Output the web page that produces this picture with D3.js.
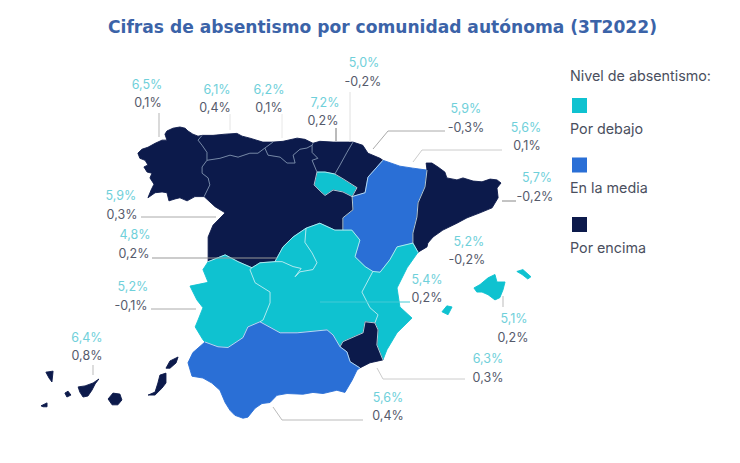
<!DOCTYPE html>
<html>
<head>
<meta charset="utf-8">
<script src="https://cdn.jsdelivr.net/npm/d3@7"></script>
<style>
	html, body { margin: 0; padding: 0; background: #fff; }
	svg { display: block; }
</style>
</head>
<body>
<div id="map"></div>
<script>
// values
var regionNames = ["Galicia", "Asturias", "Cantabria", "País Vasco", "La Rioja", "Navarra", "Aragón", "Cataluña",
	"Castilla y León", "Madrid", "Extremadura", "Castilla-La Mancha", "C. Valenciana", "Baleares", "Murcia", "Andalucía", "Canarias"];
var absenceRates = [6.5, 6.1, 6.2, 7.2, 5.0, 5.9, 5.6, 5.7, 5.9, 4.8, 5.2, 5.4, 5.2, 5.1, 6.3, 5.6, 6.4];
var rateChanges = [0.1, 0.4, 0.1, 0.2, -0.2, -0.3, 0.1, -0.2, 0.3, 0.2, -0.1, 0.2, -0.2, 0.2, 0.3, 0.4, 0.8];
var absenceLevels = ["encima", "encima", "encima", "encima", "debajo", "encima", "media", "encima",
	"encima", "debajo", "debajo", "debajo", "debajo", "debajo", "encima", "media", "encima"];

var levelKeys = ["debajo", "media", "encima"];
var levelNames = ["Por debajo", "En la media", "Por encima"];

// shared borders, lon/lat
var galCoast = [[-7.04,43.59],[-7.18,43.57],[-7.36,43.62],[-7.53,43.70],[-7.63,43.77],[-7.81,43.80],[-8.05,43.77],[-8.26,43.70],[-8.33,43.62],[-8.26,43.47],[-8.43,43.47],[-8.67,43.39],[-8.92,43.29],[-9.13,43.24],[-9.27,43.14],[-9.20,43.01],[-9.02,42.96],[-8.92,42.84],[-9.06,42.79],[-8.95,42.66],[-8.78,42.63],[-8.85,42.51],[-8.71,42.35],[-8.81,42.20],[-8.92,42.00],[-8.67,42.13],[-8.43,42.15],[-8.26,42.13],[-8.19,41.92],[-7.98,41.97],[-7.81,42.00],[-7.56,41.92],[-7.29,42.03],[-6.97,42.03]];
var galCyL = [[-6.97,42.03],[-6.77,42.33],[-6.83,42.51],[-7.04,42.63],[-7.04,42.79],[-6.87,42.96]];
var galAst = [[-6.87,42.96],[-6.87,43.16],[-7.04,43.34],[-7.18,43.47],[-7.04,43.59]];
var astCoast = [[-7.04,43.59],[-6.66,43.59],[-6.24,43.62],[-5.83,43.64],[-5.65,43.57],[-5.38,43.52],[-4.93,43.42],[-4.58,43.42]];
var astCan = [[-4.58,43.42],[-4.86,43.27]];
var astCyL = [[-4.86,43.27],[-5.10,43.14],[-5.38,43.14],[-5.79,43.04],[-6.07,43.09],[-6.42,43.01],[-6.87,42.96]];
var canCoast = [[-4.58,43.42],[-4.23,43.44],[-3.74,43.52],[-3.47,43.49],[-3.19,43.39]];
var canPV = [[-3.19,43.39],[-3.22,43.34]];
var canCyL = [[-4.86,43.27],[-4.75,43.09],[-4.33,43.04],[-4.09,42.89],[-3.81,42.89],[-3.88,43.09],[-3.64,43.24],[-3.40,43.27],[-3.22,43.34]];
var pvCoast = [[-3.19,43.39],[-2.95,43.44],[-2.49,43.42],[-1.80,43.42]];
var pvNav = [[-1.80,43.42],[-2.01,43.16],[-2.25,42.84],[-2.43,42.61]];
var pvRio = [[-2.43,42.61],[-2.77,42.66],[-3.05,42.66]];
var pvCyL = [[-3.05,42.66],[-3.22,42.96],[-3.02,43.01],[-3.22,43.16],[-3.22,43.34]];
var navRio = [[-2.43,42.61],[-2.15,42.49],[-1.66,42.26],[-1.83,42.03]];
var rioCyL = [[-1.83,42.03],[-2.15,42.15],[-2.49,42.20],[-2.77,42.06],[-2.91,42.15],[-3.15,42.33],[-3.05,42.66]];
var navCoast = [[-1.80,43.42],[-1.46,43.34],[-1.28,43.14],[-0.86,43.01],[-0.76,42.96]];
var navAra = [[-0.76,42.96],[-1.28,42.53],[-1.38,42.13],[-1.83,42.03]];
var cylAra = [[-1.83,42.03],[-1.80,41.69],[-2.15,41.48],[-2.15,41.16]];
var cylClm = [[-2.15,41.16],[-2.43,41.16],[-2.95,41.34],[-3.43,41.21]];
var cylMad = [[-3.43,41.21],[-3.88,40.98],[-4.23,40.72],[-4.51,40.33]];
var cylClm2 = [[-4.51,40.33],[-5.03,40.30],[-5.31,40.17]];
var cylExt = [[-5.31,40.17],[-5.79,40.33],[-6.24,40.51],[-6.83,40.33]];
var cylPort = [[-6.83,40.33],[-6.83,40.64],[-6.83,40.98],[-6.66,41.29],[-6.24,41.61],[-6.59,41.77],[-6.97,42.03]];
var madClm = [[-3.43,41.21],[-3.47,40.84],[-3.22,40.56],[-3.05,40.30],[-3.19,40.12],[-3.64,40.06],[-3.81,39.93],[-3.60,40.15],[-3.88,40.20],[-4.26,40.33],[-4.51,40.33]];
var portExt = [[-6.83,40.33],[-7.01,40.12],[-6.83,39.78],[-7.46,39.68],[-7.22,39.31],[-7.01,39.10],[-7.18,38.77],[-7.28,38.58],[-7.01,38.23],[-6.94,38.17]];
var extAnd = [[-6.94,38.17],[-6.49,38.04],[-6.14,38.02],[-5.62,38.29],[-5.45,38.58],[-5.03,38.72]];
var extClm = [[-5.31,40.17],[-5.38,40.12],[-5.20,39.77],[-4.68,39.52],[-4.68,39.23],[-4.92,38.77],[-5.03,38.72]];
var andClm = [[-5.03,38.72],[-4.33,38.42],[-3.74,38.42],[-2.70,38.50],[-2.49,38.36],[-2.25,38.04]];
var andMur = [[-2.25,38.04],[-2.01,37.90],[-1.90,37.63],[-1.56,37.46]];
var andCoast = [[-1.56,37.46],[-1.66,37.40],[-1.83,37.12],[-2.08,36.78],[-2.36,36.84],[-2.84,36.75],[-3.19,36.78],[-3.54,36.73],[-4.09,36.75],[-4.44,36.70],[-4.68,36.50],[-4.96,36.47],[-5.20,36.34],[-5.45,36.09],[-5.62,36.06],[-5.90,36.14],[-6.07,36.28],[-6.24,36.50],[-6.42,36.84],[-6.70,37.04],[-7.01,37.18],[-7.39,37.23],[-7.53,37.60],[-7.36,37.88],[-6.94,38.17]];
var murClm = [[-2.25,38.04],[-2.15,38.18],[-1.45,38.42],[-1.38,38.72],[-1.04,38.69]];
var murVal = [[-1.04,38.69],[-0.93,38.50],[-0.97,38.09],[-0.76,37.68]];
var murCoast = [[-0.76,37.68],[-1.21,37.60],[-1.56,37.46]];
var valClm = [[-1.11,40.07],[-1.49,39.52],[-1.21,39.10],[-0.93,38.91],[-1.04,38.69]];
var araVal = [[-1.11,40.07],[-0.86,40.05],[-0.52,40.38],[-0.27,40.72],[0.28,40.82]];
var araClm = [[-2.15,41.16],[-1.84,41.16],[-1.56,40.90],[-1.73,40.46],[-1.38,40.20],[-1.11,40.07]];
var valCoast = [[-0.76,37.68],[-0.62,37.96],[-0.27,38.42],[0.25,38.82],[-0.17,39.12],[-0.27,39.63],[0.08,40.17],[0.46,40.58]];
var valCat = [[0.46,40.58],[0.28,40.82]];
var araCat = [[0.28,40.82],[0.28,41.08],[0.42,41.50],[0.46,41.87],[0.70,42.28],[0.77,42.71]];
var araFrance = [[-0.76,42.96],[-0.17,42.81],[0.28,42.76],[0.77,42.71]];
var catCoast = [[0.77,42.71],[0.74,42.89],[0.94,42.89],[1.15,42.79],[1.39,42.66],[1.46,42.51],[1.81,42.46],[2.02,42.51],[2.37,42.43],[2.68,42.41],[2.96,42.48],[3.20,42.46],[3.34,42.38],[3.20,42.25],[3.24,42.00],[3.03,41.74],[2.61,41.61],[2.16,41.48],[1.81,41.34],[1.32,41.16],[0.98,40.98],[0.80,40.82],[0.77,40.72],[0.46,40.58]];

// islands, lon/lat
var mallorca = [[2.40,39.63],[2.61,39.72],[2.89,39.90],[3.13,39.99],[3.20,39.79],[3.48,39.79],[3.41,39.58],[3.30,39.37],[3.13,39.31],[2.89,39.45],[2.68,39.52],[2.50,39.52]];
var menorca = [[3.89,40.07],[4.10,40.12],[4.38,39.93],[4.27,39.87],[4.07,39.99]];
var ibiza = [[1.29,38.99],[1.46,39.15],[1.64,39.12],[1.50,38.91]];
var laPalma = [[-18.0,28.79],[-17.75,28.82],[-17.79,28.49],[-17.89,28.61]];
var tenerife = [[-16.88,28.34],[-16.64,28.37],[-16.36,28.46],[-16.16,28.58],[-16.29,28.43],[-16.40,28.24],[-16.54,28.06],[-16.71,28.03],[-16.82,28.18]];
var gomera = [[-17.34,28.15],[-17.23,28.21],[-17.13,28.09],[-17.27,28.03]];
var hierro = [[-18.17,27.76],[-17.96,27.85],[-17.96,27.73],[-18.10,27.73]];
var granCanaria = [[-15.84,27.97],[-15.67,28.15],[-15.43,28.12],[-15.36,27.94],[-15.50,27.79],[-15.70,27.79]];
var fuerteventura = [[-14.45,28.09],[-14.21,28.18],[-14.11,28.46],[-14.04,28.70],[-13.83,28.76],[-13.83,28.46],[-13.97,28.30],[-14.21,28.09]];
var lanzarote = [[-13.83,28.91],[-13.69,29.13],[-13.41,29.25],[-13.48,29.07],[-13.69,28.91]];

function rev(a){ return a.slice().reverse(); }
function ring(){ return [].concat.apply([], arguments); }

// same order as regionNames
var regionRings = [
	[ring(galCoast, galCyL, galAst)],
	[ring(astCoast, astCan, astCyL, galAst)],
	[ring(canCoast, canPV, rev(canCyL), rev(astCan))],
	[ring(pvCoast, pvNav, pvRio, pvCyL, rev(canPV))],
	[ring(navRio, rioCyL, rev(pvRio))],
	[ring(navCoast, navAra, rev(navRio), rev(pvNav))],
	[ring(araFrance, rev(araCat), rev(araVal), rev(araClm), rev(cylAra), rev(navAra))],
	[ring(catCoast, valCat, araCat)],
	[ring(rev(astCyL), canCyL, rev(pvCyL), rev(rioCyL), cylAra, cylClm, cylMad, cylClm2, cylExt, cylPort, galCyL)],
	[ring(rev(cylMad), madClm)],
	[ring(rev(cylExt), extClm, rev(extAnd), rev(portExt))],
	[ring(cylClm, madClm, cylClm2, extClm, andClm, murClm, rev(valClm), rev(araClm))],
	[ring(valCoast, valCat, rev(araVal), valClm, murVal)],
	[mallorca, menorca, ibiza],
	[ring(murVal, murCoast, rev(andMur), murClm)],
	[ring(andClm, andMur, andCoast, extAnd)],
	[laPalma, tenerife, gomera, hierro, granCanaria, fuerteventura, lanzarote]
];

// inner borders, the pale lines between regions
var darkBorders = [galCyL, galAst, astCan, astCyL, canPV, canCyL, pvNav, pvCyL];
var lightBorders = [pvRio, navRio, rioCyL, navAra, cylAra, cylClm, cylMad, cylClm2, cylExt, madClm, extAnd, extClm,
	andClm, andMur, murClm, murVal, valClm, araVal, araClm, valCat, araCat];

// label centres and leader lines, same order as regionNames
var labelSpots = [
	[147,84,148,102], [217,89,215,107], [269,89,269,107], [325,102,323,120], [364,62,363,81], [466,108,466,127],
	[526,127,527,145], [537,177,535,196], [121,195,122,214], [135,234,134,253], [133,286,131,305], [427,279,427,297],
	[469,241,467,259], [514,318,513,337], [488,358,488,377], [388,397,388,415], [87,337,87,355]
];
var leaders = [
	[[159,113],[159,137]], [[230,114],[230,130]], [[282,114],[282,138]], [[336,128],[336,141]], [[350,92],[350,142]],
	[[445,131],[388,131],[373,149]], [[502,150],[422,150],[413,162]], [[502,201],[516,201]], [[141,217],[216,217]],
	[[152,258],[277,258]], [[151,309],[196,309]], [[320,302],[410,302]], [], [[503,296],[503,307]],
	[[465,379],[383,379],[377,368]], [[363,420],[282,420],[273,407]], [[93,365],[93,375]]
];
var leaderColors = ["#b5b5b5", "#e4e4e4", "#e8e8e8", "#777", "#e0e0e0", "#aaa", "#ccc", "#888", "#aaa",
	"#999", "#aaa", "#45cad6", "#ccc", "#bbb", "#ccc", "#bbb", "#bbb"];

var levelColor = d3.scaleOrdinal().domain(levelKeys).range(["#0fc2d0", "#2a6fd6", "#0c1a4b"]);

var locale = d3.formatLocale({ decimal: ",", thousands: ".", grouping: [3], currency: ["", "€"], minus: "-" });
var pct = function(v){ return locale.format(".1f")(v) + "%"; };

function drawMap(){
	var width = 740;
	var height = 463;
	var labelFont = "Inter, sans-serif";

	var svg = d3.select("#map")
		.append("svg")
		.attr("width", width)
		.attr("height", height);

	var peninsula = d3.geoMercator().scale(1650).center([-9.3, 43.8]).translate([137, 127]);
	var islands = d3.geoMercator().scale(1650).center([-15.6, 28]).translate([115, 398]);
	var line = d3.line().curve(d3.curveLinearClosed);
	var openLine = d3.line();

	svg.append("text")
		.attr("x", 382.5).attr("y", 33)
		.attr("text-anchor", "middle")
		.attr("font-family", "'DejaVu Sans', sans-serif")
		.attr("font-weight", "bold")
		.attr("font-size", 17.1)
		.attr("fill", "#3b63a8")
		.text("Cifras de absentismo por comunidad autónoma (3T2022)");

	var g = svg.append("g");
	regionNames.forEach(function(name, i){
		var proj = name === "Canarias" ? islands : peninsula;
		g.append("path")
			.attr("class", "region")
			.attr("d", regionRings[i].map(function(r){ return line(r.map(proj)); }).join(""))
			.attr("fill", levelColor(absenceLevels[i]))
			.attr("stroke", levelColor(absenceLevels[i]))
			.attr("stroke-width", 0.9)
			.attr("stroke-linejoin", "round");
	});

	g.selectAll("path.dark-border")
		.data(darkBorders)
		.enter()
		.append("path")
		.attr("class", "dark-border")
		.attr("d", function(d){ return openLine(d.map(peninsula)); })
		.attr("fill", "none")
		.attr("stroke", "#8fa3bd")
		.attr("stroke-width", 0.8);

	g.selectAll("path.light-border")
		.data(lightBorders)
		.enter()
		.append("path")
		.attr("class", "light-border")
		.attr("d", function(d){ return openLine(d.map(peninsula)); })
		.attr("fill", "none")
		.attr("stroke", "#d8f2f6")
		.attr("stroke-width", 0.8);

	var lead = svg.append("g");
	leaders.forEach(function(pts, i){
		if (!pts.length) return;
		lead.append("path")
			.attr("d", openLine(pts))
			.attr("fill", "none")
			.attr("stroke", leaderColors[i])
			.attr("stroke-width", 1);
	});

	var labels = svg.append("g")
		.attr("font-family", labelFont)
		.attr("font-size", 12.5)
		.attr("text-anchor", "middle")
		.attr("dominant-baseline", "central");

	labels.selectAll("text.rate")
		.data(absenceRates)
		.enter()
		.append("text")
		.attr("class", "rate")
		.attr("x", function(d, i){ return labelSpots[i][0]; })
		.attr("y", function(d, i){ return labelSpots[i][1]; })
		.attr("fill", "#6fd0da")
		.text(pct);

	labels.selectAll("text.change")
		.data(rateChanges)
		.enter()
		.append("text")
		.attr("class", "change")
		.attr("x", function(d, i){ return labelSpots[i][2]; })
		.attr("y", function(d, i){ return labelSpots[i][3]; })
		.attr("fill", "#555a6b")
		.text(pct);

	// legend
	var legend = svg.append("g")
		.attr("font-family", labelFont)
		.attr("font-size", 14.3)
		.attr("fill", "#4a4f5e");

	legend.append("text")
		.attr("x", 570).attr("y", 75)
		.attr("dominant-baseline", "central")
		.text("Nivel de absentismo:");

	var rowY = d3.scalePoint().domain(levelKeys).range([98, 217]);

	levelKeys.forEach(function(k, i){
		legend.append("rect")
			.attr("x", 572).attr("y", rowY(k))
			.attr("width", 15).attr("height", 15)
			.attr("fill", levelColor(k));
		legend.append("text")
			.attr("x", 570).attr("y", rowY(k) + 30)
			.attr("dominant-baseline", "central")
			.text(levelNames[i]);
	});
}

drawMap();
</script>
</body>
</html>
